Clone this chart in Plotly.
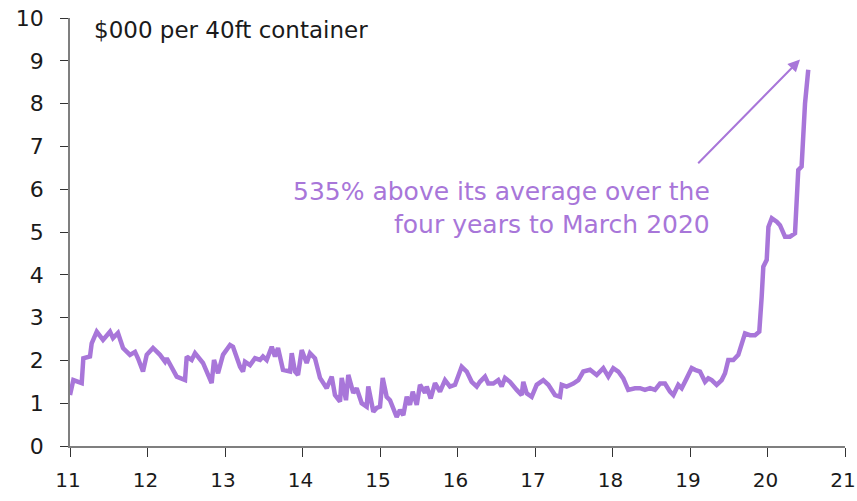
import plotly.graph_objects as go

# Data (year as decimal, value in $000 per 40ft container)
years = [11.000, 11.043, 11.151, 11.172, 11.258, 11.280, 11.345, 11.426, 11.516, 11.555,
         11.619, 11.684, 11.774, 11.839, 11.877, 11.942, 11.990, 12.071, 12.161, 12.226,
         12.248, 12.377, 12.484, 12.506, 12.570, 12.613, 12.716, 12.828, 12.858, 12.910,
         12.974, 13.065, 13.103, 13.194, 13.232, 13.258, 13.323, 13.387, 13.452, 13.490,
         13.538, 13.603, 13.645, 13.684, 13.748, 13.839, 13.861, 13.903, 13.942, 13.990,
         14.054, 14.097, 14.161, 14.226, 14.312, 14.377, 14.419, 14.484, 14.506, 14.561,
         14.591, 14.655, 14.699, 14.764, 14.828, 14.849, 14.914, 14.957, 15.000, 15.035,
         15.086, 15.129, 15.215, 15.258, 15.301, 15.345, 15.387, 15.422, 15.474, 15.516,
         15.581, 15.603, 15.654, 15.710, 15.774, 15.839, 15.903, 15.968, 16.054, 16.119,
         16.183, 16.248, 16.290, 16.355, 16.397, 16.462, 16.526, 16.570, 16.613, 16.677,
         16.764, 16.828, 16.849, 16.893, 16.957, 17.022, 17.107, 17.172, 17.258, 17.323,
         17.345, 17.409, 17.494, 17.559, 17.623, 17.710, 17.796, 17.881, 17.946, 18.010,
         18.075, 18.139, 18.203, 18.290, 18.355, 18.419, 18.484, 18.548, 18.613, 18.677,
         18.742, 18.785, 18.849, 18.893, 18.957, 19.022, 19.065, 19.129, 19.194, 19.236,
         19.280, 19.344, 19.409, 19.452, 19.494, 19.559, 19.623, 19.667, 19.710, 19.774,
         19.839, 19.894, 19.903, 19.925, 19.946, 19.990, 20.012, 20.055, 20.119, 20.161,
         20.226, 20.290, 20.355, 20.377, 20.397, 20.440, 20.461, 20.484, 20.526]

values = [1.19, 1.54, 1.47, 2.05, 2.09, 2.40, 2.67, 2.48, 2.67, 2.52,
          2.64, 2.29, 2.13, 2.20, 2.05, 1.74, 2.13, 2.29, 2.13, 1.97,
          2.05, 1.62, 1.54, 2.09, 2.01, 2.17, 1.94, 1.47, 2.01, 1.70,
          2.13, 2.36, 2.32, 1.85, 1.74, 1.97, 1.89, 2.05, 2.01, 2.09,
          2.01, 2.32, 2.09, 2.29, 1.78, 1.74, 2.17, 1.74, 1.66, 2.24,
          1.94, 2.17, 2.05, 1.59, 1.35, 1.62, 1.19, 1.04, 1.59, 1.07,
          1.66, 1.24, 1.35, 1.00, 0.92, 1.39, 0.80, 0.89, 0.92, 1.59,
          1.15, 1.07, 0.68, 0.84, 0.72, 1.15, 0.96, 1.27, 0.96, 1.43,
          1.24, 1.39, 1.11, 1.47, 1.27, 1.54, 1.39, 1.43, 1.85, 1.74,
          1.50, 1.39, 1.50, 1.62, 1.46, 1.46, 1.54, 1.39, 1.59, 1.50,
          1.31, 1.19, 1.50, 1.23, 1.15, 1.43, 1.54, 1.43, 1.19, 1.15,
          1.43, 1.39, 1.46, 1.54, 1.74, 1.78, 1.66, 1.82, 1.62, 1.82,
          1.74, 1.58, 1.31, 1.35, 1.35, 1.31, 1.35, 1.31, 1.46, 1.46,
          1.27, 1.19, 1.43, 1.35, 1.58, 1.82, 1.78, 1.74, 1.50, 1.58,
          1.54, 1.43, 1.54, 1.70, 2.01, 2.01, 2.13, 2.40, 2.63, 2.59,
          2.59, 2.67, 2.87, 3.49, 4.19, 4.35, 5.12, 5.32, 5.24, 5.16,
          4.89, 4.89, 4.97, 5.75, 6.45, 6.53, 7.38, 8.00, 8.79]

x_ticks = [11, 12, 13, 14, 15, 16, 17, 18, 19, 20, 21]
x_tick_labels = ["11", "12", "13", "14", "15", "16", "17", "18", "19", "20", "21"]
y_ticks = [0, 1, 2, 3, 4, 5, 6, 7, 8, 9, 10]

unit_label = "$000 per 40ft container"
note_text = "535% above its average over the<br>four years to March 2020"

LINE = "#A876D9"
FONT = "DejaVu Sans"

fig = go.Figure()
fig.add_trace(go.Scatter(x=years, y=values, mode="lines",
                         line=dict(color=LINE, width=4.5), showlegend=False,
                         hoverinfo="skip"))

fig.update_layout(
    width=857, height=501,
    margin=dict(l=70, r=12, t=18, b=55, autoexpand=False),
    paper_bgcolor="white", plot_bgcolor="white",
    font=dict(family=FONT, size=21, color="#1a1a1a"),
    xaxis=dict(range=[11, 21], tickvals=x_ticks, ticktext=x_tick_labels,
               showgrid=False, zeroline=False, showline=True, automargin=False,
               linecolor="#7f7f7f", linewidth=1.5,
               ticks="outside", ticklen=9, tickcolor="#333333", tickwidth=1,
               ticklabelstandoff=6, ticklabeloverflow="allow",
               ticklabelshift=-2,
               tickfont=dict(size=20)),
    yaxis=dict(range=[0, 10], tickvals=y_ticks,
               showgrid=False, zeroline=False, showline=True, automargin=False,
               linecolor="#7f7f7f", linewidth=1.5,
               ticks="outside", ticklen=8, tickcolor="#333333", tickwidth=1,
               ticklabelstandoff=12, ticklabeloverflow="allow",
               tickfont=dict(size=22)),
)

fig.add_annotation(x=0, xref="paper", y=1, yref="paper", text=unit_label,
                   showarrow=False, xanchor="left", yanchor="middle",
                   xshift=22, yshift=-12,
                   font=dict(family=FONT, size=23, color="#1a1a1a"))

fig.add_annotation(x=19.284, y=5.56, text=note_text, showarrow=False,
                   xanchor="right", yanchor="middle", align="right",
                   font=dict(family=FONT, size=25, color=LINE))

fig.add_annotation(x=20.42, y=9.03, ax=19.087, ay=6.57, axref="x", ayref="y",
                   xref="x", yref="y", text="", showarrow=True,
                   arrowhead=2, arrowsize=1.2, arrowwidth=2, arrowcolor=LINE)

# remove the page's default body margin so the figure fills the window exactly
fig.write_html("out.html",
               config={"displayModeBar": False},
               post_script="document.body.style.margin='0px';"
                           "document.body.style.overflow='hidden';")
